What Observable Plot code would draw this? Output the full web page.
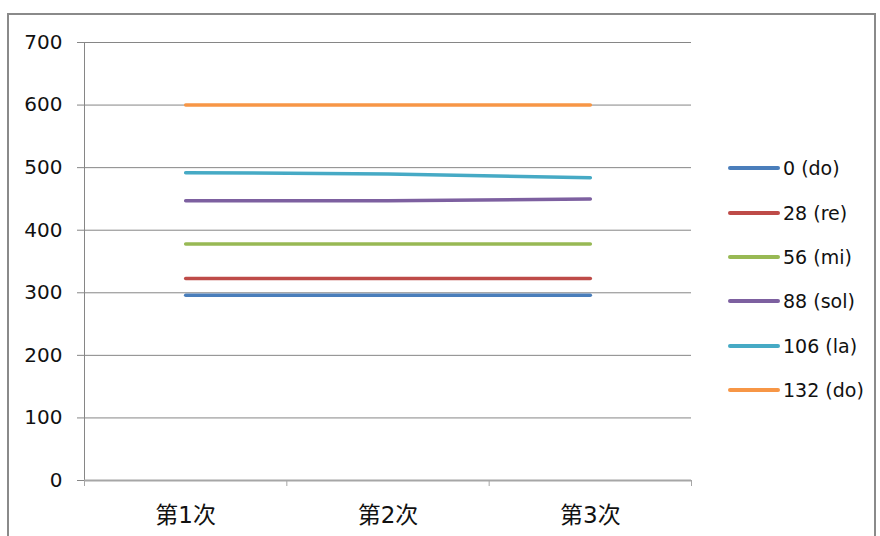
<!DOCTYPE html>
<html>
<head>
<meta charset="utf-8">
<script src="https://cdn.jsdelivr.net/npm/d3@7"></script>
<script src="https://cdn.jsdelivr.net/npm/@observablehq/plot@0.6"></script>
<style>
  html, body { margin: 0; padding: 0; background: #fff; }
  #chart { position: relative; width: 880px; height: 536px; overflow: hidden;
           font-family: "DejaVu Sans", "Noto Sans CJK SC", sans-serif; color: #111; }
  #frame { position: absolute; left: 7px; top: 13px; width: 869px; height: 540px;
           border: 2px solid #8a8a8a; box-sizing: border-box; }
  #plot { position: absolute; left: 0; top: 0; }
  #legend { position: absolute; left: 728px; top: 146px; }
  .row { display: flex; align-items: center; height: 44.4px; }
  .swatch { width: 52px; height: 4px; border-radius: 2px; }
  .label { margin-left: 3px; font-size: 19px; white-space: nowrap; }
</style>
</head>
<body>
<div id="chart">
  <div id="frame"></div>
  <div id="plot"></div>
  <div id="legend"></div>
</div>
<script>
// Trials along the x axis
const categories = ["第1次", "第2次", "第3次"];

// One series per note, named by its offset and solfège syllable
const seriesNames = ["0 (do)", "28 (re)", "56 (mi)", "88 (sol)", "106 (la)", "132 (do)"];

// Measured value for each note on each trial
const do0   = [296, 296, 296];
const re28  = [323, 323, 323];
const mi56  = [378, 378, 378];
const sol88 = [447, 447, 450];
const la106 = [492, 490, 484];
const do132 = [600, 600, 600];

// Value axis ticks
const yTicks = [0, 100, 200, 300, 400, 500, 600, 700];

// Series colours (office palette)
const colors = ["#4a7ebb", "#be4b48", "#98b954", "#7d60a0", "#46aac5", "#f79646"];

const seriesValues = [do0, re28, mi56, sol88, la106, do132];
const rows = seriesNames.flatMap((name, s) =>
  seriesValues[s].map((value, i) => ({series: name, i, value}))
);

// Category centres sit on integers; tick marks fall on the band boundaries between them
const centers = d3.range(categories.length);
const boundaries = d3.range(categories.length + 1).map(i => i - 0.5);

const chart = Plot.plot({
  width: 700,
  height: 536,
  marginLeft: 84,
  marginRight: 9,
  marginTop: 42,
  marginBottom: 56,
  style: {background: "transparent", fontFamily: "'DejaVu Sans', 'Noto Sans CJK SC', sans-serif", color: "#111", overflow: "visible"},
  x: {type: "linear", domain: [-0.5, categories.length - 0.5], axis: null},
  y: {domain: [0, 700], axis: null},
  color: {domain: seriesNames, range: colors},
  marks: [
    Plot.gridY(yTicks, {stroke: "#868686", strokeOpacity: 1}),
    Plot.axisY(yTicks, {tickSize: 7, tickPadding: 15, stroke: "#868686", fontSize: 20, label: null}),
    Plot.ruleX([-0.5], {stroke: "#868686"}),
    Plot.ruleY([0], {stroke: "#a6a6a6", strokeWidth: 2}),
    Plot.axisX(boundaries, {tickSize: 6, stroke: "#a6a6a6", tickFormat: () => "", label: null}),
    Plot.axisX(centers, {tickSize: 0, tickPadding: 26, fontSize: 23, tickFormat: i => categories[i], label: null}),
    Plot.line(rows, {x: "i", y: "value", z: "series", stroke: "series", strokeWidth: 3.5, strokeLinecap: "round", strokeLinejoin: "round"})
  ]
});
document.getElementById("plot").appendChild(chart);

// Legend: a short line swatch in each series colour, followed by its name
const legend = document.getElementById("legend");
seriesNames.forEach((name, s) => {
  const row = document.createElement("div");
  row.className = "row";
  const sw = document.createElement("div");
  sw.className = "swatch";
  sw.style.background = colors[s];
  const lab = document.createElement("span");
  lab.className = "label";
  lab.textContent = name;
  row.appendChild(sw);
  row.appendChild(lab);
  legend.appendChild(row);
});
</script>
</body>
</html>
